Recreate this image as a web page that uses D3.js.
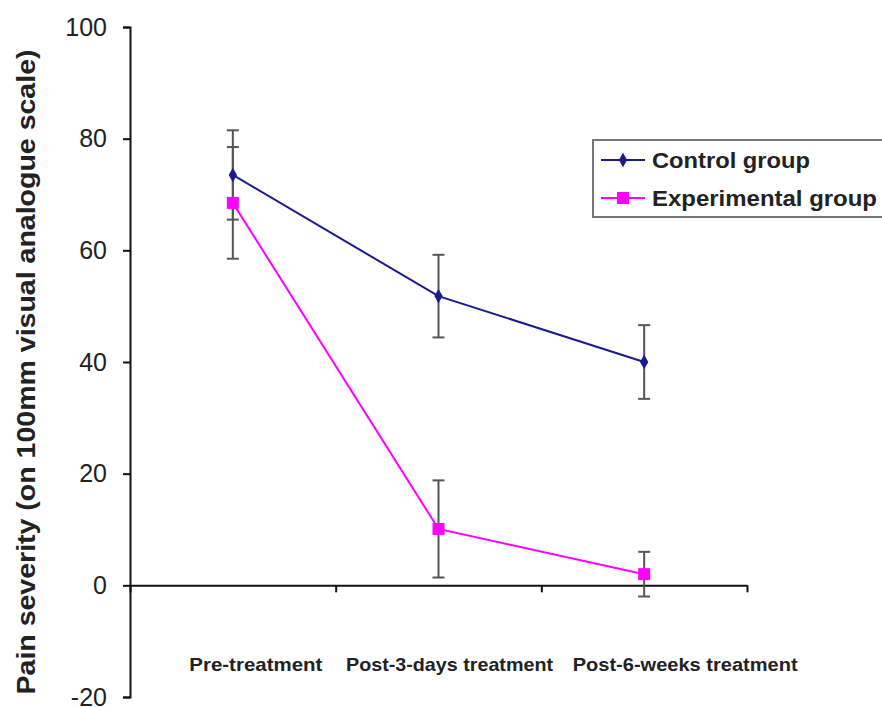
<!DOCTYPE html>
<html>
<head>
<meta charset="utf-8">
<script src="https://cdn.jsdelivr.net/npm/d3@7/dist/d3.min.js"></script>
<style>
  body { margin: 0; background: #fff; }
  svg { display: block; font-family: "Liberation Sans", Arial, sans-serif; }
</style>
</head>
<body>
<svg id="chart" width="882" height="708"></svg>
<script>
// data
let categories = ["Pre-treatment", "Post-3-days treatment", "Post-6-weeks treatment"];
let controlMean = [73.5, 51.8, 40.0];
let controlErr = [8.0, 7.4, 6.6];
let expMean = [68.5, 10.1, 2.0];
let expErr = [10.0, 8.7, 4.0];
let yTicks = [-20, 0, 20, 40, 60, 80, 100];
let seriesNames = ["Control group", "Experimental group"];

// label layout (offset from band centre, rendered width)
let labelShift = [23, 11, 41];
let labelWidth = [133, 207, 225];

var svg = d3.select("#chart");

var x = d3.scaleBand()
    .domain(categories)
    .range([130, 747]);

var y = d3.scaleLinear()
    .domain([-20, 100])
    .range([697, 27]);

// x axis at zero, tick marks on band edges
var edges = d3.scaleLinear().domain([0, categories.length]).range(x.range());
var xAxis = svg.append("g")
    .attr("transform", "translate(0," + y(0) + ")")
    .call(d3.axisBottom(edges).ticks(categories.length).tickFormat("").tickSize(7).tickSizeOuter(0));
xAxis.select(".domain").attr("stroke", "#111").attr("stroke-width", 2);
xAxis.selectAll(".tick line").attr("stroke", "#111").attr("stroke-width", 2);

// y axis
var yAxis = svg.append("g")
    .attr("transform", "translate(130,0)")
    .call(d3.axisLeft(y).tickValues(yTicks).tickFormat(d => String(d)).tickSize(7).tickSizeOuter(7).tickPadding(16));
yAxis.select(".domain").attr("stroke", "#111").attr("stroke-width", 2);
yAxis.selectAll(".tick line").attr("stroke", "#111").attr("stroke-width", 2);
yAxis.selectAll(".tick text")
    .attr("font-size", 25)
    .attr("fill", "#222")
    .attr("font-family", "Liberation Sans, Arial, sans-serif");

// category labels
svg.append("g").selectAll("text")
    .data(categories)
    .join("text")
    .attr("x", (d, i) => x(d) + x.bandwidth() / 2 + labelShift[i])
    .attr("y", 671)
    .attr("text-anchor", "middle")
    .attr("font-size", 19)
    .attr("font-weight", "bold")
    .attr("fill", "#222")
    .attr("textLength", (d, i) => labelWidth[i])
    .attr("lengthAdjust", "spacingAndGlyphs")
    .text(d => d);

// axis title
svg.append("text")
    .attr("transform", "translate(35,372) rotate(-90)")
    .attr("text-anchor", "middle")
    .attr("font-size", 26)
    .attr("font-weight", "bold")
    .attr("fill", "#222")
    .attr("textLength", 645)
    .attr("lengthAdjust", "spacingAndGlyphs")
    .text("Pain severity (on 100mm visual analogue scale)");

var series = [
    { name: seriesNames[0], mean: controlMean, err: controlErr, color: "#1a1a8c", marker: "diamond" },
    { name: seriesNames[1], mean: expMean, err: expErr, color: "#ff00ff", marker: "square" }
];

var cx = d => x(d) + x.bandwidth() / 2;

// error bars
series.forEach(function(s) {
    var g = svg.append("g").attr("stroke", "#555").attr("stroke-width", 2);
    categories.forEach(function(c, i) {
        var top = y(s.mean[i] + s.err[i]);
        var bot = y(s.mean[i] - s.err[i]);
        g.append("line").attr("x1", cx(c)).attr("x2", cx(c)).attr("y1", top).attr("y2", bot);
        g.append("line").attr("x1", cx(c) - 6).attr("x2", cx(c) + 6).attr("y1", top).attr("y2", top);
        g.append("line").attr("x1", cx(c) - 6).attr("x2", cx(c) + 6).attr("y1", bot).attr("y2", bot);
    });
});

var line = d3.line().x((d, i) => cx(categories[i])).y(d => y(d));

function drawMarker(g, type, color, px, py) {
    if (type === "diamond") {
        g.append("path")
            .attr("d", d3.symbol().type(d3.symbolDiamond).size(60)())
            .attr("transform", "translate(" + px + "," + py + ")")
            .attr("fill", color);
    } else {
        g.append("rect")
            .attr("x", px - 6).attr("y", py - 6)
            .attr("width", 12).attr("height", 12)
            .attr("fill", color);
    }
}

series.slice().reverse().forEach(function(s) {
    svg.append("path")
        .datum(s.mean)
        .attr("d", line)
        .attr("fill", "none")
        .attr("stroke", s.color)
        .attr("stroke-width", 2);
    var g = svg.append("g");
    s.mean.forEach(function(v, i) {
        drawMarker(g, s.marker, s.color, cx(categories[i]), y(v));
    });
});

// legend
var legend = svg.append("g").attr("transform", "translate(593,140)");
legend.append("rect")
    .attr("width", 300).attr("height", 77)
    .attr("fill", "#fff")
    .attr("stroke", "#777")
    .attr("stroke-width", 2);
series.forEach(function(s, i) {
    var ly = 20 + i * 38;
    legend.append("line")
        .attr("x1", 8).attr("x2", 52).attr("y1", ly).attr("y2", ly)
        .attr("stroke", s.color).attr("stroke-width", 2);
    drawMarker(legend, s.marker, s.color, 30, ly);
    legend.append("text")
        .attr("x", 59).attr("y", ly + 8)
        .attr("font-size", 22)
        .attr("font-weight", "bold")
        .attr("fill", "#222")
        .attr("textLength", i === 0 ? 158 : 225)
        .attr("lengthAdjust", "spacingAndGlyphs")
        .text(s.name);
});
</script>
</body>
</html>
